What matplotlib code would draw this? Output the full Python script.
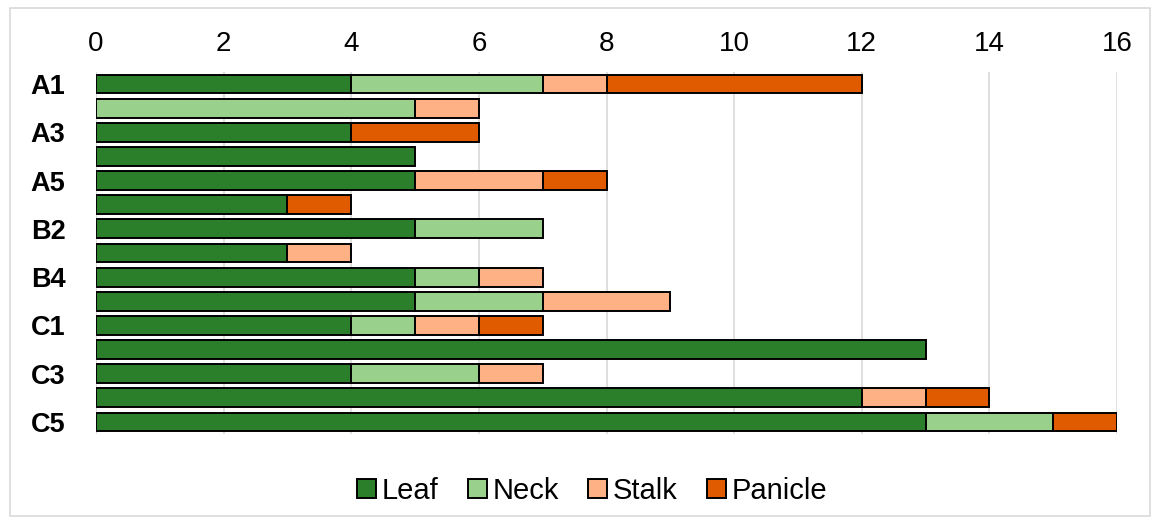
import matplotlib.pyplot as plt
import numpy as np
from matplotlib.patches import Rectangle

plt.rcParams["font.family"] = ["Liberation Sans", "DejaVu Sans"]

rows = ["A1", "A2", "A3", "A4", "A5", "B1", "B2", "B3", "B4", "B5",
        "C1", "C2", "C3", "C4", "C5"]
leaf = [4, 0, 4, 5, 5, 3, 5, 3, 5, 5, 4, 13, 4, 12, 13]
neck = [3, 5, 0, 0, 0, 0, 2, 0, 1, 2, 1, 0, 2, 0, 2]
stalk = [1, 1, 0, 0, 2, 0, 0, 1, 1, 2, 1, 0, 1, 1, 0]
panicle = [4, 0, 2, 0, 1, 1, 0, 0, 0, 0, 1, 0, 0, 1, 1]

series = [("Leaf", leaf, "#2b7f2b"), ("Neck", neck, "#98d08c"),
          ("Stalk", stalk, "#fdb184"), ("Panicle", panicle, "#e05a00")]

fig = plt.figure(figsize=(11.59, 5.2), dpi=100)
fig.patches.append(Rectangle((0.009, 0.008), 0.983, 0.977, transform=fig.transFigure,
                             fill=False, edgecolor="#d9d9d9", linewidth=1.2))
ax = fig.add_axes([0.0828, 0.1654, 0.881, 0.6961])

y = np.arange(len(rows))
left = np.zeros(len(rows))
for name, vals, color in series:
    vals = np.array(vals, dtype=float)
    mask = vals > 0
    ax.barh(y[mask], vals[mask], left=left[mask], height=0.78, color=color,
            edgecolor="black", linewidth=1.4, label=name, zorder=3)
    left += vals

ax.set_xlim(0, 16)
ax.set_ylim(len(rows) - 0.5, -0.5)
ax.set_xticks(range(0, 17, 2))
ax.xaxis.tick_top()
ax.tick_params(axis="x", length=0, labelsize=20, pad=11)
ax.set_yticks(y[::2])
ax.set_yticklabels(rows[::2], fontsize=19.5, fontweight="bold")
ax.tick_params(axis="y", length=0, pad=22)
ax.grid(axis="x", color="#d9d9d9", linewidth=1.2, zorder=0)
for s in ax.spines.values():
    s.set_visible(False)

ax.legend(loc="upper center", bbox_to_anchor=(0.486, -0.045), ncol=4, frameon=False,
          fontsize=21, handlelength=0.65, handleheight=0.65, handletextpad=0.2,
          columnspacing=1.0)

fig.savefig("out.png", dpi=100)
